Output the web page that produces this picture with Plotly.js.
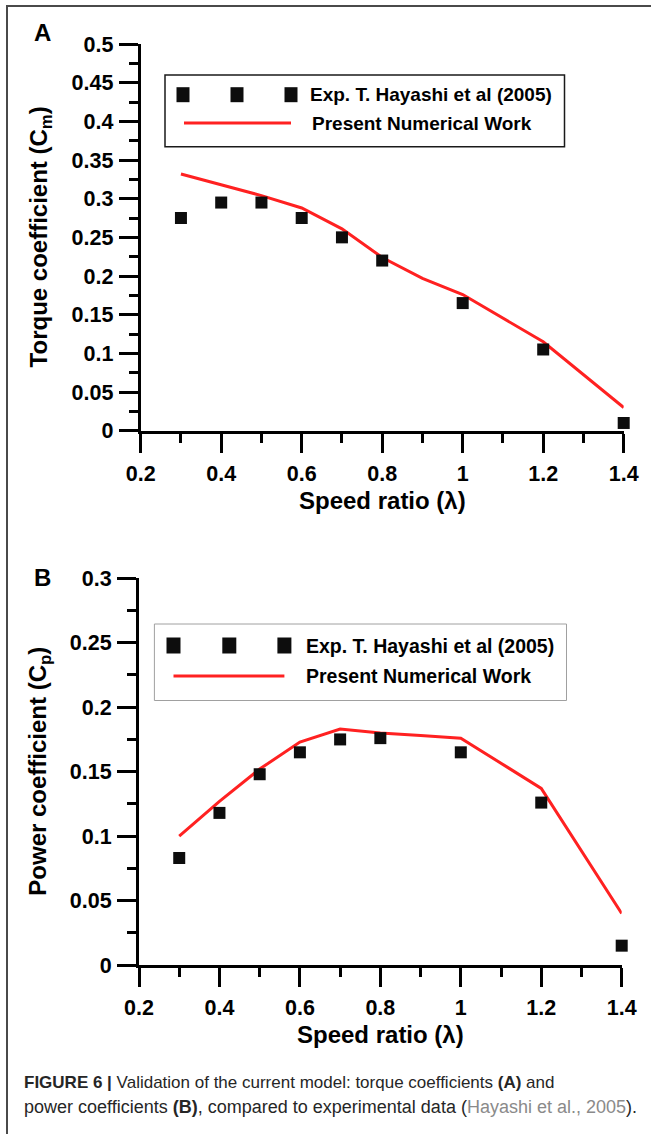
<!DOCTYPE html>
<html>
<head>
<meta charset="utf-8">
<script src="https://cdn.plot.ly/plotly-3.0.1.min.js"></script>
<style>
  html, body { margin: 0; padding: 0; background: #fff; }
  #chart { width: 651px; height: 1134px; }
</style>
</head>
<body>
<div id="chart"></div>
<script>
// ---------------- DATA ----------------
const speedRatioExp = [0.3, 0.4, 0.5, 0.6, 0.7, 0.8, 1.0, 1.2, 1.4];
const torqueExp     = [0.275, 0.295, 0.295, 0.275, 0.25, 0.22, 0.165, 0.105, 0.01];
const powerExp      = [0.083, 0.118, 0.148, 0.165, 0.175, 0.176, 0.165, 0.126, 0.015];

const speedRatioNum = [0.3, 0.4, 0.5, 0.6, 0.7, 0.8, 0.9, 1.0, 1.2, 1.4];
const torqueNum     = [0.332, 0.318, 0.304, 0.288, 0.261, 0.224, 0.197, 0.176, 0.115, 0.03];
const powerNum      = [0.100, 0.127, 0.152, 0.173, 0.183, 0.180, 0.178, 0.176, 0.137, 0.040];

const xTickVals  = [0.2, 0.4, 0.6, 0.8, 1.0, 1.2, 1.4];
const xTickText  = ['0.2', '0.4', '0.6', '0.8', '1', '1.2', '1.4'];
const xMinorVals = [0.3, 0.5, 0.7, 0.9, 1.1, 1.3];

const yTickValsA  = [0, 0.05, 0.1, 0.15, 0.2, 0.25, 0.3, 0.35, 0.4, 0.45, 0.5];
const yTickTextA  = ['0', '0.05', '0.1', '0.15', '0.2', '0.25', '0.3', '0.35', '0.4', '0.45', '0.5'];
const yMinorValsA = [0.025, 0.075, 0.125, 0.175, 0.225, 0.275, 0.325, 0.375, 0.425, 0.475];

const yTickValsB  = [0, 0.05, 0.1, 0.15, 0.2, 0.25, 0.3];
const yTickTextB  = ['0', '0.05', '0.1', '0.15', '0.2', '0.25', '0.3'];
const yMinorValsB = [0.025, 0.075, 0.125, 0.175, 0.225, 0.275];

const topTicksA = [0.4, 0.6, 0.8, 1.0, 1.2];
const topTicksB = [0.44, 0.68, 0.92, 1.16];

const legendLabels = ['Exp. T. Hayashi et al (2005)', 'Present Numerical Work'];
const xTitle  = 'Speed ratio (λ)';
const yTitleA = 'Torque coefficient (C<sub>m</sub>)';
const yTitleB = 'Power coefficient (C<sub>p</sub>)';
const captionLine1 = '<b>FIGURE 6 |</b> Validation of the current model: torque coefficients <b>(A)</b> and';
const captionLine2 = 'power coefficients <b>(B)</b>, compared to experimental data (<span style="color:#8a8a8a">Hayashi et al., 2005</span>).';

// ---------------- STYLE / LAYOUT ----------------
const W = 651, H = 1134;
const px = v => v / W;
const py = v => 1 - v / H;
const FONT = 'Liberation Sans, Arial, sans-serif';
const CAPFONT = 'Liberation Sans, Arial, sans-serif';
const RED = '#ff2121';
const BLK = '#000000';

function mainX(domain, anchor) {
  return {
    domain: domain, anchor: anchor, range: [0.2, 1.4],
    tickmode: 'array', tickvals: xTickVals, ticktext: xTickText,
    ticks: 'outside', ticklen: 19, tickwidth: 3, tickcolor: BLK,
    ticklabelstandoff: 2,
    showline: true, linewidth: 3, linecolor: BLK,
    showgrid: false, zeroline: false, fixedrange: true,
    tickfont: { family: FONT, size: 21.5, color: BLK, weight: 'bold' },
    minor: { tickmode: 'array', tickvals: xMinorVals, ticks: 'outside', ticklen: 9, tickwidth: 3, tickcolor: BLK, showgrid: false }
  };
}
function mainY(domain, anchor, range, vals, text, minorVals) {
  return {
    domain: domain, anchor: anchor, range: range,
    tickmode: 'array', tickvals: vals, ticktext: text,
    ticks: 'outside', ticklen: 19, tickwidth: 3, tickcolor: BLK,
    ticklabelstandoff: 1,
    showline: true, linewidth: 3, linecolor: BLK,
    showgrid: false, zeroline: false, fixedrange: true,
    tickfont: { family: FONT, size: 21.5, color: BLK, weight: 'bold' },
    minor: { tickmode: 'array', tickvals: minorVals, ticks: 'outside', ticklen: 9, tickwidth: 3, tickcolor: BLK, showgrid: false }
  };
}
function topX(overlay, anchor, vals) {
  return {
    overlaying: overlay, anchor: anchor, side: 'top', range: [0.2, 1.4],
    tickmode: 'array', tickvals: vals, ticks: 'inside', ticklen: 19, tickwidth: 3, tickcolor: BLK,
    showticklabels: false, showline: true, linewidth: 3, linecolor: BLK,
    showgrid: false, zeroline: false, fixedrange: true
  };
}
function rightY(overlay, anchor, range, vals) {
  return {
    overlaying: overlay, anchor: anchor, side: 'right', range: range,
    tickmode: 'array', tickvals: vals, ticks: 'inside', ticklen: 9, tickwidth: 3, tickcolor: BLK,
    showticklabels: false, showline: true, linewidth: 3, linecolor: BLK,
    showgrid: false, zeroline: false, fixedrange: true
  };
}

const domXA = [px(140.7), px(623.7)];
const domYA = [py(430.7), py(44)];
const domXB = [px(139), px(621.7)];
const domYB = [py(965), py(578.3)];

const traces = [
  { x: speedRatioNum, y: torqueNum, xaxis: 'x', yaxis: 'y', mode: 'lines', name: legendLabels[1],
    line: { color: RED, width: 3 }, showlegend: false, cliponaxis: false, hoverinfo: 'x+y' },
  { x: speedRatioExp, y: torqueExp, xaxis: 'x', yaxis: 'y', mode: 'markers', name: legendLabels[0],
    marker: { symbol: 'square', size: 12, color: '#0d0d0d' }, showlegend: false, cliponaxis: false, hoverinfo: 'x+y' },
  { x: speedRatioNum, y: powerNum, xaxis: 'x2', yaxis: 'y2', mode: 'lines', name: legendLabels[1],
    line: { color: RED, width: 3 }, showlegend: false, cliponaxis: false, hoverinfo: 'x+y' },
  { x: speedRatioExp, y: powerExp, xaxis: 'x2', yaxis: 'y2', mode: 'markers', name: legendLabels[0],
    marker: { symbol: 'square', size: 12, color: '#0d0d0d' }, showlegend: false, cliponaxis: false, hoverinfo: 'x+y' }
];

function rectPx(x0, y0, x1, y1, line, fill) {
  return { type: 'rect', xref: 'paper', yref: 'paper', x0: px(x0), x1: px(x1), y0: py(y1), y1: py(y0),
           line: line, fillcolor: fill || 'rgba(0,0,0,0)', layer: 'above' };
}
function linePx(x0, y0, x1, y1, color, width) {
  return { type: 'line', xref: 'paper', yref: 'paper', x0: px(x0), x1: px(x1), y0: py(y0), y1: py(y1),
           line: { color: color, width: width }, layer: 'above' };
}
function legendSquares(xs, yc, w, h) {
  return xs.map(x => rectPx(x - w / 2, yc - h / 2, x + w / 2, yc + h / 2, { width: 0 }, '#0d0d0d'));
}

const shapes = [
  rectPx(7, 6, 700, 1200, { color: '#4a4a4a', width: 2 }),
  rectPx(165, 75, 564.5, 146.7, { color: '#1a1a1a', width: 1.5 }, '#ffffff'),
  ...legendSquares([183, 237, 291], 94.7, 13, 15),
  linePx(184, 123, 291, 123, RED, 3),
  rectPx(154.4, 624, 566.5, 700.5, { color: '#a0a0a0', width: 1 }, '#ffffff'),
  ...legendSquares([173.5, 229.3, 284.4], 645.5, 14, 16),
  linePx(173.5, 676, 284.4, 676, RED, 3)
];

function ann(text, x, y, opts) {
  return Object.assign({ text: text, xref: 'paper', yref: 'paper', x: px(x), y: py(y), showarrow: false,
    xanchor: 'left', yanchor: 'middle', font: { family: FONT, size: 19, color: BLK, weight: 'bold' } }, opts || {});
}
const bigFont = { family: FONT, size: 24, color: BLK, weight: 'bold' };

const annotations = [
  ann('A', 42, 33, { xanchor: 'center', font: bigFont }),
  ann('B', 42, 577, { xanchor: 'center', font: bigFont }),
  ann(legendLabels[0], 308, 94.7),
  ann(legendLabels[1], 310, 123),
  ann(legendLabels[0], 304, 645.5, { font: { family: FONT, size: 19.5, color: BLK, weight: 'bold' } }),
  ann(legendLabels[1], 304, 676, { font: { family: FONT, size: 19.5, color: BLK, weight: 'bold' } }),
  ann(xTitle, 382, 500, { xanchor: 'center', font: bigFont }),
  ann(xTitle, 380, 1034, { xanchor: 'center', font: bigFont }),
  ann(yTitleA, 40, 237.4, { xanchor: 'center', textangle: -90, font: bigFont }),
  ann(yTitleB, 40, 771.7, { xanchor: 'center', textangle: -90, font: bigFont }),
  ann(captionLine1, 22, 1082, { font: { family: CAPFONT, size: 17, color: '#262626' } }),
  ann(captionLine2, 22, 1107, { font: { family: CAPFONT, size: 18, color: '#262626' } })
];

const layout = {
  width: W, height: H,
  margin: { l: 0, r: 0, t: 0, b: 0, pad: 0 },
  paper_bgcolor: '#ffffff', plot_bgcolor: 'rgba(0,0,0,0)',
  showlegend: false,
  font: { family: FONT, color: BLK },
  xaxis:  mainX(domXA, 'y'),
  yaxis:  mainY(domYA, 'x', [0, 0.5], yTickValsA, yTickTextA, yMinorValsA),
  xaxis2: mainX(domXB, 'y2'),
  yaxis2: mainY(domYB, 'x2', [0, 0.3], yTickValsB, yTickTextB, yMinorValsB),
  xaxis3: topX('x', 'y', topTicksA),
  yaxis3: rightY('y', 'x', [0, 0.5], yMinorValsA),
  xaxis4: topX('x2', 'y2', topTicksB),
  yaxis4: rightY('y2', 'x2', [0, 0.3], yMinorValsB),
  shapes: shapes,
  annotations: annotations
};

Plotly.newPlot('chart', traces, layout, { displayModeBar: false, staticPlot: true });
</script>
</body>
</html>
